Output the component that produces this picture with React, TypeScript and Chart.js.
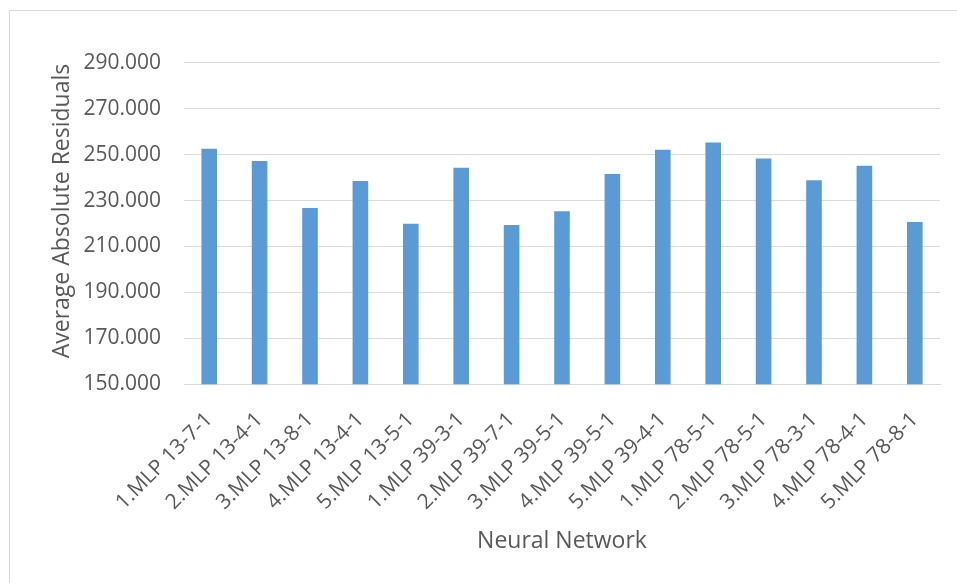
import React, { useEffect, useRef } from "react";
import { Chart, registerables } from "chart.js";

Chart.register(...registerables);

const categories = [
  "1.MLP 13-7-1", "2.MLP 13-4-1", "3.MLP 13-8-1", "4.MLP 13-4-1", "5.MLP 13-5-1",
  "1.MLP 39-3-1", "2.MLP 39-7-1", "3.MLP 39-5-1", "4.MLP 39-5-1", "5.MLP 39-4-1",
  "1.MLP 78-5-1", "2.MLP 78-5-1", "3.MLP 78-3-1", "4.MLP 78-4-1", "5.MLP 78-8-1",
];

const residuals = [
  252.5, 247.2, 226.7, 238.5, 219.9,
  244.3, 219.3, 225.3, 241.5, 252.1,
  255.3, 248.3, 238.8, 245.1, 220.6,
];

const yMin = 150;
const yMax = 290;
const yStep = 20;

const xTitle = "Neural Network";
const yTitle = "Average Absolute Residuals";

const FONT = "'Open Sans', 'Noto Sans', sans-serif";
const TEXT = "#595959";
const GRID = "#d9d9d9";

const framePlugin = {
  id: "frame",
  beforeDraw(chart: any) {
    const ctx = chart.ctx;
    ctx.save();
    ctx.fillStyle = "#ffffff";
    ctx.fillRect(0, 0, chart.width, chart.height);
    ctx.strokeStyle = GRID;
    ctx.lineWidth = 1;
    ctx.strokeRect(9.5, 10.5, chart.width + 20, chart.height + 20);
    ctx.restore();
  },
  afterDraw(chart: any) {
    const ctx = chart.ctx;
    ctx.save();
    ctx.translate(62, 211);
    ctx.rotate(-Math.PI / 2);
    ctx.font = `23px ${FONT}`;
    ctx.fillStyle = TEXT;
    ctx.textAlign = "center";
    ctx.textBaseline = "middle";
    ctx.fillText(yTitle, 0, 0);
    ctx.restore();
  },
};

export default function App() {
  const ref = useRef<HTMLCanvasElement>(null);

  useEffect(() => {
    if (!ref.current) return;
    const chart = new Chart(ref.current, {
      type: "bar",
      data: {
        labels: categories,
        datasets: [
          {
            label: yTitle,
            data: residuals,
            backgroundColor: "#5b9bd5",
            borderWidth: 0,
            categoryPercentage: 1,
            barPercentage: 0.31,
          },
        ],
      },
      options: {
        responsive: false,
        animation: false,
        layout: { padding: { left: 0, right: 17, top: 62.7, bottom: 0 } },
        plugins: {
          legend: { display: false },
          tooltip: { enabled: false },
        },
        scales: {
          x: {
            grid: { display: false, drawTicks: false },
            border: { display: true, color: GRID, width: 1 },
            ticks: {
              color: TEXT,
              font: { family: FONT, size: 21 },
              minRotation: 45,
              maxRotation: 45,
              autoSkip: false,
              padding: 23,
              labelOffset: 0,
            },
            title: {
              display: true,
              text: xTitle,
              color: TEXT,
              font: { family: FONT, size: 23 },
              padding: { top: 0, bottom: 28.2 },
            },
            afterFit(scale: any) {
              scale.height = 583 - 384.3;
            },
          },
          y: {
            min: yMin,
            max: yMax,
            grid: { color: GRID, lineWidth: 1, drawTicks: false },
            border: { display: false },
            ticks: {
              stepSize: yStep,
              color: TEXT,
              font: { family: FONT, size: 21 },
              padding: 23,
              callback: (v: any) => Number(v).toFixed(3),
            },
            afterFit(scale: any) {
              scale.width = 184;
            },
          },
        },
      },
      plugins: [framePlugin],
    });
    return () => chart.destroy();
  }, []);

  return (
    <div style={{ position: "absolute", left: 0, top: 0, width: 957, height: 583, overflow: "hidden", background: "#fff" }}>
      <canvas ref={ref} width={957} height={583} style={{ display: "block", width: 957, height: 583 }} />
    </div>
  );
}
